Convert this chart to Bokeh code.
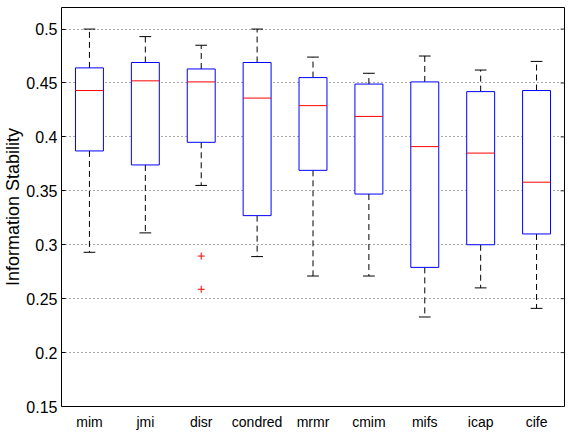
from bokeh.plotting import figure
from bokeh.models import Range1d, FixedTicker
from bokeh.embed import file_html
from bokeh.resources import INLINE

# Box plot statistics for each feature-selection criterion
methods = ["mim", "jmi", "disr", "condred", "mrmr", "cmim", "mifs", "icap", "cife"]
whisker_hi = [0.500, 0.493, 0.485, 0.500, 0.474, 0.459, 0.475, 0.462, 0.470]
q3 = [0.464, 0.469, 0.463, 0.469, 0.455, 0.449, 0.451, 0.442, 0.443]
median = [0.443, 0.452, 0.451, 0.436, 0.429, 0.419, 0.391, 0.385, 0.358]
q1 = [0.387, 0.374, 0.395, 0.327, 0.369, 0.347, 0.279, 0.300, 0.310]
whisker_lo = [0.293, 0.311, 0.355, 0.289, 0.271, 0.271, 0.233, 0.260, 0.241]
outlier_method = ["disr", "disr"]
outlier_value = [0.2895, 0.2587]
yticks = [0.15, 0.2, 0.25, 0.3, 0.35, 0.4, 0.45, 0.5]

xs = list(range(1, len(methods) + 1))
half_box = 0.25
half_cap = 0.105
x_lo, x_hi = 0.5, 9.5

p = figure(width=568, height=438, output_backend="svg", toolbar_location=None,
           x_range=Range1d(x_lo, x_hi), y_range=Range1d(0.15, 0.52),
           min_border_left=59, min_border_top=7, min_border_right=4,
           min_border_bottom=32)
p.outline_line_color = "black"
p.outline_line_width = 1
p.background_fill_color = "white"
p.border_fill_color = "white"

# grid: dotted horizontal lines only
p.xgrid.grid_line_color = None
p.ygrid.grid_line_color = "#555555"
p.ygrid.grid_line_dash = "1 3"
p.ygrid.grid_line_width = 1

p.yaxis.ticker = FixedTicker(ticks=yticks)
p.yaxis.major_label_overrides = {t: f"{t:g}" for t in yticks}
p.yaxis.minor_tick_line_color = None
p.yaxis.major_tick_in = 4
p.yaxis.major_tick_out = 0
p.yaxis.axis_line_color = None
p.yaxis.major_label_text_font = "Liberation Sans"
p.yaxis.major_label_text_font_size = "16px"
p.yaxis.major_label_text_color = "black"
p.yaxis.major_label_standoff = 4
p.yaxis.axis_label = "Information Stability"
p.yaxis.axis_label_text_font = "Liberation Sans"
p.yaxis.axis_label_text_font_size = "18px"
p.yaxis.axis_label_text_font_style = "normal"
p.yaxis.axis_label_text_color = "black"
p.yaxis.axis_label_standoff = 0

p.xaxis.ticker = FixedTicker(ticks=xs)
p.xaxis.major_label_overrides = {x: m for x, m in zip(xs, methods)}
p.xaxis.minor_tick_line_color = None
p.xaxis.major_tick_in = 0
p.xaxis.major_tick_out = 0
p.xaxis.axis_line_color = None
p.xaxis.major_label_text_font = "Liberation Sans"
p.xaxis.major_label_text_font_size = "14px"
p.xaxis.major_label_text_color = "black"
p.xaxis.major_label_standoff = 7

# short inward ticks along the right edge of the frame
tick_len = 0.07
p.segment(x0=[x_hi] * len(yticks), y0=yticks,
          x1=[x_hi - tick_len] * len(yticks), y1=yticks,
          line_color="#333333", line_width=1)

left = [x - half_box for x in xs]
rgt = [x + half_box for x in xs]

# whiskers (dashed) from box edges to whisker ends
p.segment(x0=xs, y0=q3, x1=xs, y1=whisker_hi, line_color="black",
          line_dash="6 4", line_width=1)
p.segment(x0=xs, y0=q1, x1=xs, y1=whisker_lo, line_color="black",
          line_dash="6 4", line_width=1)
# whisker caps
p.segment(x0=[x - half_cap for x in xs], y0=whisker_hi,
          x1=[x + half_cap for x in xs], y1=whisker_hi, line_color="black")
p.segment(x0=[x - half_cap for x in xs], y0=whisker_lo,
          x1=[x + half_cap for x in xs], y1=whisker_lo, line_color="black")

# boxes
p.quad(left=left, right=rgt, top=q3, bottom=q1, fill_color="white",
       line_color="blue", line_width=1)
# medians
p.segment(x0=left, y0=median, x1=rgt, y1=median, line_color="red", line_width=1)

# outliers
ox = [xs[methods.index(m)] for m in outlier_method]
p.scatter(x=ox, y=outlier_value, marker="cross", size=7, line_color="red",
          line_width=1)

open("out.html", "w").write(file_html(p, INLINE))
